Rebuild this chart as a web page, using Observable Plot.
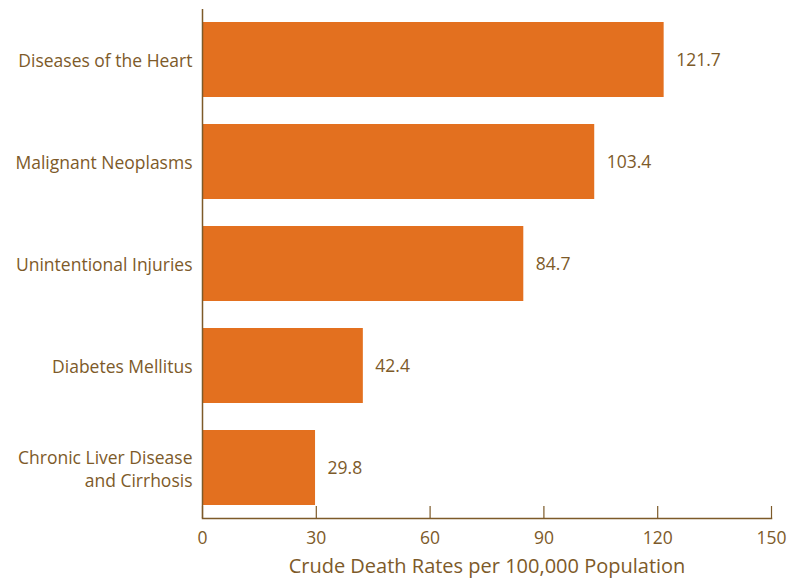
<!DOCTYPE html>
<html>
<head>
<meta charset="utf-8">
<script src="https://cdn.jsdelivr.net/npm/d3@7"></script>
<script src="https://cdn.jsdelivr.net/npm/@observablehq/plot@0.6"></script>
<style>
  html, body { margin: 0; padding: 0; background: #fff; }
  #chart svg { display: block; }
</style>
</head>
<body>
<div id="chart"></div>
<script>
const causes = [
  "Diseases of the Heart",
  "Malignant Neoplasms",
  "Unintentional Injuries",
  "Diabetes Mellitus",
  "Chronic Liver Disease\nand Cirrhosis"
];
const rates = [121.7, 103.4, 84.7, 42.4, 29.8];
const xTicks = [0, 30, 60, 90, 120, 150];
const xLabel = "Crude Death Rates per 100,000 Population";

const data = causes.map((c, i) => ({cause: c, rate: rates[i]}));

const barColor = "#e3701f";
const inkColor = "#7d5a29";
const W = 793, H = 580;
const mTop = 9, mBottom = 62;
const tickLen = 12;
const fs = 17.5;

const chart = Plot.plot({
  width: W,
  height: H,
  marginLeft: 202,
  marginRight: 22,
  marginTop: mTop,
  marginBottom: mBottom,
  style: {fontFamily: "'Open Sans', sans-serif", fontSize: fs + "px", color: inkColor, background: "#fff"},
  x: {domain: [0, 150]},
  y: {domain: causes, paddingInner: 0.26, paddingOuter: 0.12},
  marks: [
    Plot.barX(data, {y: "cause", x: "rate", fill: barColor}),
    Plot.text(data, {y: "cause", x: "rate", text: d => d.rate.toFixed(1), textAnchor: "start", dx: 12, fill: inkColor, fontSize: fs}),
    Plot.ruleX(xTicks, {stroke: inkColor, strokeWidth: 1.2, insetTop: H - mTop - mBottom - tickLen}),
    Plot.ruleX([0], {stroke: inkColor, strokeWidth: 1.5}),
    Plot.frame({anchor: "bottom", stroke: inkColor, strokeWidth: 1.5}),
    Plot.axisX({ticks: xTicks, tickSize: 0, tickPadding: 13, stroke: inkColor, fill: inkColor, fontSize: fs,
      label: xLabel, labelAnchor: "center", labelOffset: 54, labelArrow: false}),
    Plot.axisY({tickSize: 0, tickPadding: 10, fill: inkColor, fontSize: fs, label: null, lineHeight: 1.3})
  ]
});

d3.select(chart).selectAll("[aria-label='x-axis label'] text").style("font-size", "20px");
document.getElementById("chart").append(chart);
</script>
</body>
</html>
